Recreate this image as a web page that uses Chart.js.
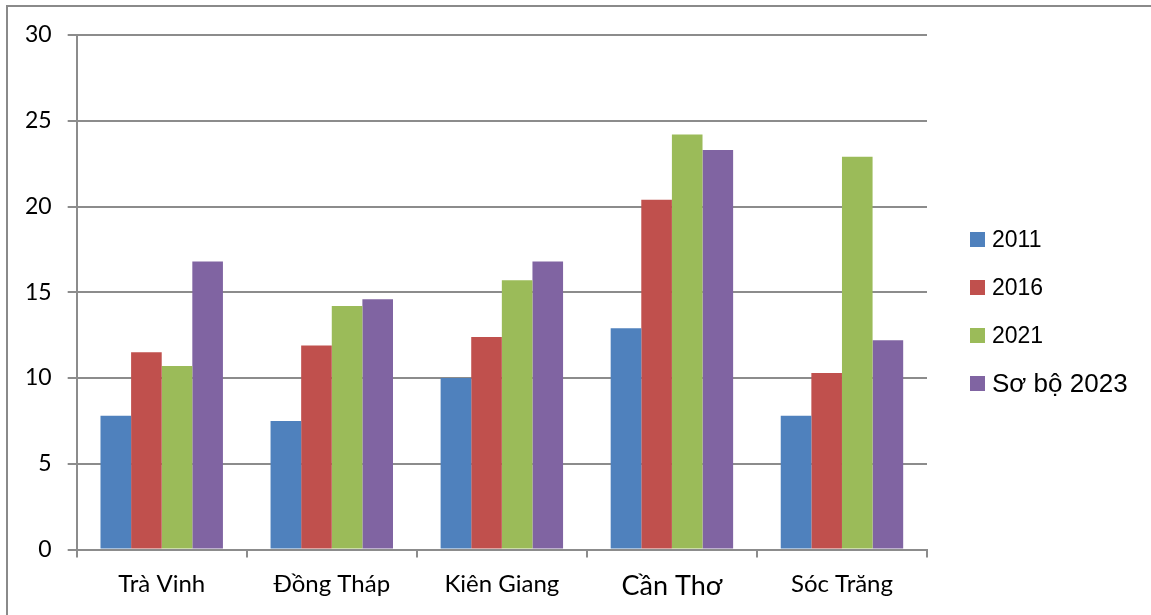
<!DOCTYPE html>
<html lang="vi">
<head>
<meta charset="utf-8">
<title>Biểu đồ</title>
<script src="https://cdn.jsdelivr.net/npm/chart.js@4.4.1/dist/chart.umd.min.js"></script>
<style>
  html, body { margin: 0; padding: 0; background: #fff; }
  .wrap { position: relative; width: 1151px; height: 615px; overflow: hidden; background: #fff; }
  .frame {
    position: absolute; left: 6px; top: 5px; width: 1200px; height: 700px;
    border-top: 2px solid #8a8a8a; border-left: 2px solid #8a8a8a;
    pointer-events: none;
  }
  #chart { position: absolute; left: 0; top: 0; }
  .legend {
    position: absolute; left: 970px; top: 215px;
    font-family: "Liberation Sans", Arial, sans-serif; font-size: 23px; color: #000;
  }
  .legend .row { display: flex; align-items: center; height: 48px; }
  .legend .row.big { font-size: 26px; }
  .legend .sw { width: 15px; height: 15px; margin-right: 7px; flex: none; }
</style>
</head>
<body>
<div class="wrap">
  <canvas id="chart" width="1151" height="615"></canvas>
  <div class="frame"></div>
  <div class="legend" id="legend"></div>
</div>
<script>
  const categories = ["Trà Vinh", "Đồng Tháp", "Kiên Giang", "Cần Thơ", "Sóc Trăng"];
  const seriesNames = ["2011", "2016", "2021", "Sơ bộ 2023"];
  const v2011 = [7.8, 7.5, 10.0, 12.9, 7.8];
  const v2016 = [11.5, 11.9, 12.4, 20.4, 10.3];
  const v2021 = [10.7, 14.2, 15.7, 24.2, 22.9];
  const v2023 = [16.8, 14.6, 16.8, 23.3, 12.2];
  const yTicks = [0, 5, 10, 15, 20, 25, 30];

  const colors = ["#4f81bd", "#c0504d", "#9bbb59", "#8064a2"];
  const gridColor = "#8c8c8c";
  const seriesValues = [v2011, v2016, v2021, v2023];

  const datasets = seriesNames.map(function (name, i) {
    return {
      label: name,
      data: seriesValues[i],
      backgroundColor: colors[i],
      borderWidth: 0,
      categoryPercentage: 0.72,
      barPercentage: 1.0,
    };
  });

  new Chart(document.getElementById("chart"), {
    type: "bar",
    data: { labels: categories, datasets: datasets },
    options: {
      responsive: false,
      animation: false,
      layout: { padding: { left: 9, right: 224, top: 35, bottom: 1 } },
      plugins: {
        legend: { display: false },
        tooltip: { enabled: false },
      },
      scales: {
        x: {
          grid: {
            offset: true,
            drawOnChartArea: false,
            drawTicks: true,
            tickLength: 8,
            color: gridColor,
            lineWidth: 2,
          },
          border: { color: gridColor, width: 2 },
          ticks: {
            color: "#000",
            padding: 12,
            maxRotation: 0,
            font: function (ctx) {
              const big = ctx.index === 3;
              return { family: "Lato, 'Open Sans', sans-serif", size: big ? 27 : 24 };
            },
          },
        },
        y: {
          min: yTicks[0],
          max: yTicks[yTicks.length - 1],
          afterBuildTicks: function (scale) {
            scale.ticks = yTicks.map(function (v) { return { value: v }; });
          },
          grid: {
            color: gridColor,
            lineWidth: 2,
            tickLength: 9,
          },
          border: { color: gridColor, width: 2 },
          ticks: {
            color: "#000",
            padding: 16,
            font: { family: "Lato, 'Open Sans', sans-serif", size: 23 },
          },
        },
      },
    },
  });

  // legend as html, built from the same series
  const legendEl = document.getElementById("legend");
  seriesNames.forEach(function (name, i) {
    const row = document.createElement("div");
    row.className = i === seriesNames.length - 1 ? "row big" : "row";
    const sw = document.createElement("span");
    sw.className = "sw";
    sw.style.background = colors[i];
    const txt = document.createElement("span");
    txt.textContent = name;
    row.appendChild(sw);
    row.appendChild(txt);
    legendEl.appendChild(row);
  });
</script>
</body>
</html>
